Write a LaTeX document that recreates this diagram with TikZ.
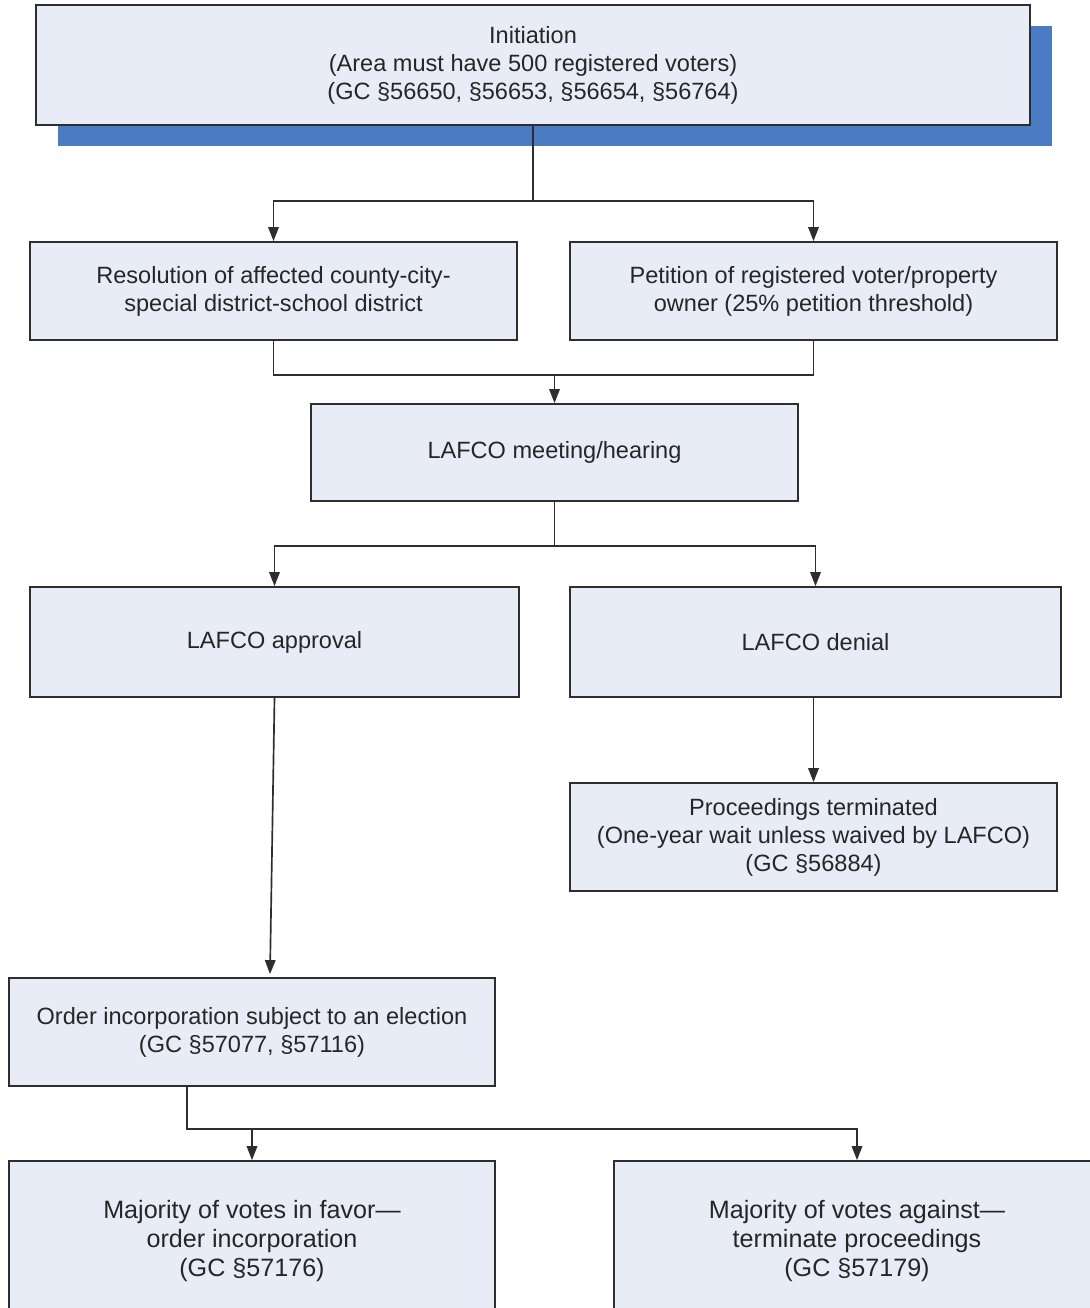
\documentclass[tikz,border=0pt]{standalone}
\usepackage{fontspec}
\setmainfont{Liberation Sans}
\usetikzlibrary{arrows.meta,shadows,calc}

\definecolor{boxfill}{HTML}{E7ECF6}
\definecolor{shadowblue}{HTML}{4A7BC3}
\definecolor{linegray}{HTML}{2E2E2E}

\begin{document}
\begin{tikzpicture}[
  box/.style={rectangle, draw=linegray, line width=1pt, fill=boxfill, align=center,
    inner sep=0pt, text=black!85, font=\fontsize{13.4}{15.9}\selectfont},
  bigbox/.style={box, font=\fontsize{14.3}{16.5}\selectfont},
  link/.style={draw=linegray, line width=0.95pt},
  arr/.style={link, -{Triangle[width=6pt,length=8pt]}}
]
  \useasboundingbox (0,0) rectangle (21.8,-26.16);
  \fill[white] (0,0) rectangle (21.8,-26.16);

  % boxes
  \node[box, minimum width=19.88cm, minimum height=2.40cm,
    drop shadow={shadow xshift=0.43cm, shadow yshift=-0.43cm, fill=shadowblue, opacity=1}]
    (init) at (10.66,-1.30)
    {Initiation\\(Area must have 500 registered voters)\\(GC §56650, §56653, §56654, §56764)};
  \node[box, minimum width=9.74cm, minimum height=1.96cm] (res) at (5.47,-5.82)
    {Resolution of affected county-city-\\special district-school district};
  \node[box, minimum width=9.74cm, minimum height=1.96cm] (pet) at (16.27,-5.82)
    {Petition of registered voter/property\\owner (25\% petition threshold)};
  \node[box, minimum width=9.74cm, minimum height=1.94cm] (meet) at (11.09,-9.05)
    {LAFCO meeting/hearing};
  \node[box, minimum width=9.78cm, minimum height=2.20cm] (appr) at (5.49,-12.84)
    {LAFCO approval};
  \node[box, minimum width=9.82cm, minimum height=2.20cm] (deny) at (16.31,-12.84)
    {LAFCO denial};
  \node[box, minimum width=9.74cm, minimum height=2.16cm] (proc) at (16.27,-16.74)
    {Proceedings terminated\\(One-year wait unless waived by LAFCO)\\(GC §56884)};
  \node[box, minimum width=9.72cm, minimum height=2.16cm] (order) at (5.04,-20.64)
    {Order incorporation subject to an election\\(GC §57077, §57116)};
  \node[bigbox, minimum width=9.72cm, minimum height=3.20cm] (favor) at (5.04,-24.82)
    {Majority of votes in favor—\\order incorporation\\(GC §57176)};
  \node[bigbox, minimum width=9.72cm, minimum height=3.20cm] (against) at (17.14,-24.82)
    {Majority of votes against—\\terminate proceedings\\(GC §57179)};

  % connectors
  \draw[arr] (init.south) -- ++(0,-1.5) -| (res.north);
  \draw[arr] (init.south) -- ++(0,-1.5) -| (pet.north);

  \coordinate (join) at ($(meet.north)+(0,0.56)$);
  \draw[link] (res.south) |- (join) -| (pet.south);
  \draw[arr] (join) -- (meet.north);

  \draw[arr] (meet.south) -- ++(0,-0.88) -| (appr.north);
  \draw[arr] (meet.south) -- ++(0,-0.88) -| (deny.north);

  \draw[arr] (appr.south) -- ($(order.north)+(0.36,0.06)$);
  \draw[arr] (proc.north |- deny.south) -- (proc.north);

  \draw[arr] ($(order.south)+(-1.3,0)$) -- ++(0,-0.84) -| (favor.north);
  \draw[arr] ($(order.south)+(-1.3,0)$) -- ++(0,-0.84) -| (against.north);
\end{tikzpicture}
\end{document}
